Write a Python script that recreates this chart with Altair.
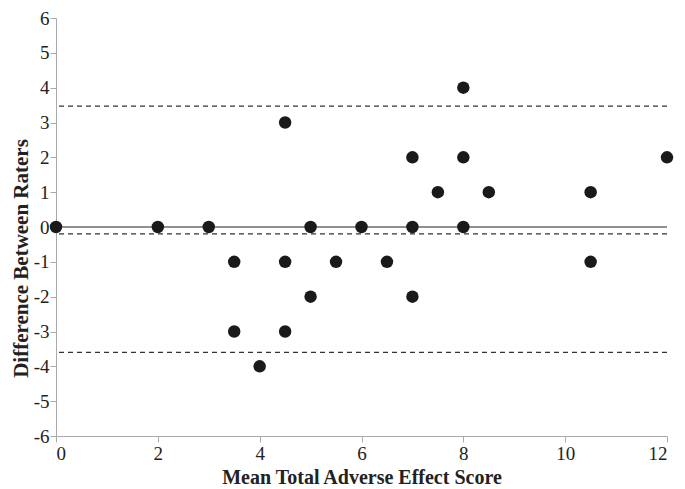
import altair as alt
import pandas as pd

mean_score = [0, 2, 3, 3.5, 3.5, 4, 4.5, 4.5, 4.5, 5, 5, 5.5, 6, 6.5, 7, 7, 7, 7.5, 8, 8, 8, 8.5, 10.5, 10.5, 12]
difference = [0, 0, 0, -1, -3, -4, 3, -1, -3, 0, -2, -1, 0, -1, 2, 0, -2, 1, 4, 2, 0, 1, 1, -1, 2]

dashed_levels = [3.47, -0.2, -3.6]
zero_level = [0]

x_ticks = [0, 2, 4, 6, 8, 10, 12]
y_ticks = list(range(-6, 7))

pts = pd.DataFrame({"x": mean_score, "y": difference})
dash_df = pd.DataFrame({"y": dashed_levels})
zero_df = pd.DataFrame({"y": zero_level, "x": [0], "x1": [12]})

font = "Liberation Serif"
hyphen_expr = "datum.value < 0 ? '-' + abs(datum.value) : '' + datum.value"

xscale = alt.Scale(domain=[0, 12], nice=False, zero=False)
yscale = alt.Scale(domain=[-6, 6], nice=False)


def x_axis():
    return alt.Axis(title="Mean Total Adverse Effect Score", values=x_ticks,
                    grid=False, tickSize=6, titlePadding=4, labelOverlap=False,
                    titleFontSize=20, labelPadding=2)


def y_axis():
    return alt.Axis(title="Difference Between Raters", values=y_ticks,
                    grid=False, tickSize=6, titlePadding=2, labelOverlap=False,
                    labelExpr=hyphen_expr, titleFontSize=21, titleY=240,
                    labelPadding=1)


zero_line = alt.Chart(zero_df).mark_rule(color="#222222", strokeWidth=1.2).encode(
    y=alt.Y("y:Q", scale=yscale, axis=y_axis()),
    x=alt.X("x:Q", scale=xscale, axis=x_axis()),
    x2="x1:Q",
)

dash_lines = alt.Chart(dash_df).mark_rule(color="#333333", strokeWidth=1.2, strokeDash=[5, 4]).encode(
    y=alt.Y("y:Q", scale=yscale, axis=y_axis())
)

points = alt.Chart(pts).mark_circle(size=155, color="#1a1a1a", opacity=1).encode(
    x=alt.X("x:Q", scale=xscale, axis=x_axis()),
    y=alt.Y("y:Q", scale=yscale, axis=y_axis()),
)

chart = alt.layer(zero_line, dash_lines, points).properties(
    width=611, height=418,
    autosize=alt.AutoSizeParams(type="none"),
    padding={"left": 48, "top": 10, "right": 10, "bottom": 60},
).configure_view(stroke=None).configure_axis(
    domainColor="#aaaaaa", tickColor="#aaaaaa", labelFont=font, titleFont=font,
    labelFontSize=19, labelColor="#222222", titleColor="#222222",
    titleFontWeight="bold",
)

chart.save("out.html", embed_options={"renderer": "svg", "actions": False})
